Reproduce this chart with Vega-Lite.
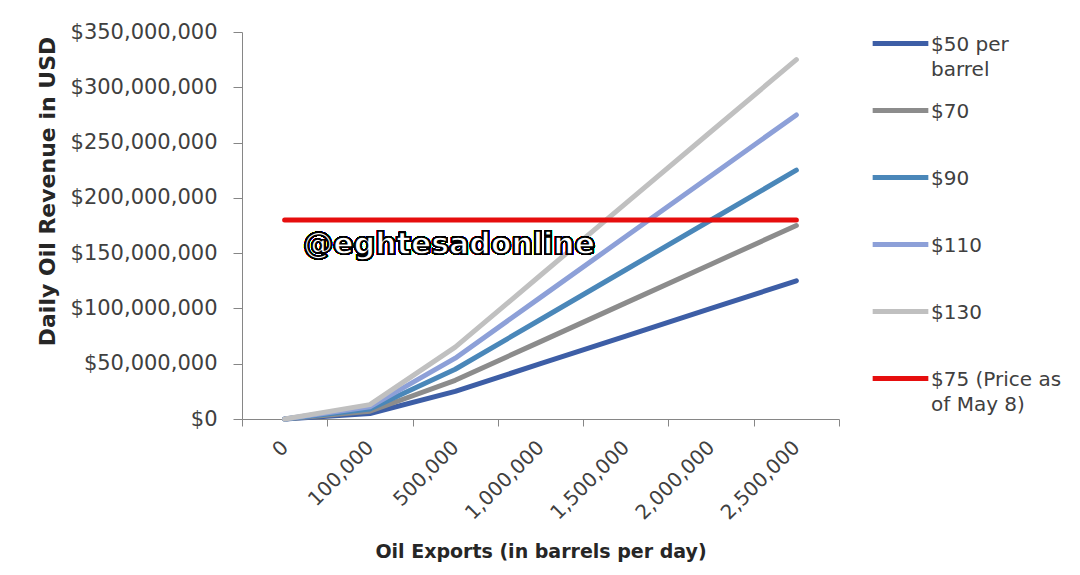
{
  "$schema": "https://vega.github.io/schema/vega-lite/v6.json",
  "width": 597,
  "height": 387,
  "autosize": {"type": "none"},
  "padding": {"left": 242, "top": 32, "right": 241, "bottom": 156},
  "background": "white",
  "config": {
    "view": {"stroke": null},
    "font": "DejaVu Sans"
  },
  "data": {
    "values": [
      {"exports": "0", "series": "$50 per barrel", "revenue": 0},
      {"exports": "100,000", "series": "$50 per barrel", "revenue": 5000000},
      {"exports": "500,000", "series": "$50 per barrel", "revenue": 25000000},
      {"exports": "1,000,000", "series": "$50 per barrel", "revenue": 50000000},
      {"exports": "1,500,000", "series": "$50 per barrel", "revenue": 75000000},
      {"exports": "2,000,000", "series": "$50 per barrel", "revenue": 100000000},
      {"exports": "2,500,000", "series": "$50 per barrel", "revenue": 125000000},
      {"exports": "0", "series": "$70", "revenue": 0},
      {"exports": "100,000", "series": "$70", "revenue": 7000000},
      {"exports": "500,000", "series": "$70", "revenue": 35000000},
      {"exports": "1,000,000", "series": "$70", "revenue": 70000000},
      {"exports": "1,500,000", "series": "$70", "revenue": 105000000},
      {"exports": "2,000,000", "series": "$70", "revenue": 140000000},
      {"exports": "2,500,000", "series": "$70", "revenue": 175000000},
      {"exports": "0", "series": "$90", "revenue": 0},
      {"exports": "100,000", "series": "$90", "revenue": 9000000},
      {"exports": "500,000", "series": "$90", "revenue": 45000000},
      {"exports": "1,000,000", "series": "$90", "revenue": 90000000},
      {"exports": "1,500,000", "series": "$90", "revenue": 135000000},
      {"exports": "2,000,000", "series": "$90", "revenue": 180000000},
      {"exports": "2,500,000", "series": "$90", "revenue": 225000000},
      {"exports": "0", "series": "$110", "revenue": 0},
      {"exports": "100,000", "series": "$110", "revenue": 11000000},
      {"exports": "500,000", "series": "$110", "revenue": 55000000},
      {"exports": "1,000,000", "series": "$110", "revenue": 110000000},
      {"exports": "1,500,000", "series": "$110", "revenue": 165000000},
      {"exports": "2,000,000", "series": "$110", "revenue": 220000000},
      {"exports": "2,500,000", "series": "$110", "revenue": 275000000},
      {"exports": "0", "series": "$130", "revenue": 0},
      {"exports": "100,000", "series": "$130", "revenue": 13000000},
      {"exports": "500,000", "series": "$130", "revenue": 65000000},
      {"exports": "1,000,000", "series": "$130", "revenue": 130000000},
      {"exports": "1,500,000", "series": "$130", "revenue": 195000000},
      {"exports": "2,000,000", "series": "$130", "revenue": 260000000},
      {"exports": "2,500,000", "series": "$130", "revenue": 325000000},
      {"exports": "0", "series": "$75 (Price as of May 8)", "revenue": 180000000},
      {"exports": "100,000", "series": "$75 (Price as of May 8)", "revenue": 180000000},
      {"exports": "500,000", "series": "$75 (Price as of May 8)", "revenue": 180000000},
      {"exports": "1,000,000", "series": "$75 (Price as of May 8)", "revenue": 180000000},
      {"exports": "1,500,000", "series": "$75 (Price as of May 8)", "revenue": 180000000},
      {"exports": "2,000,000", "series": "$75 (Price as of May 8)", "revenue": 180000000},
      {"exports": "2,500,000", "series": "$75 (Price as of May 8)", "revenue": 180000000}
    ]
  },
  "layer": [
    {
      "mark": {"type": "line", "strokeWidth": 5, "strokeCap": "round", "strokeJoin": "round"},
      "encoding": {
        "x": {
          "field": "exports",
          "type": "ordinal",
          "sort": ["0", "100,000", "500,000", "1,000,000", "1,500,000", "2,000,000", "2,500,000"],
          "scale": {"paddingInner": 0, "paddingOuter": 0},
          "axis": {
            "title": "Oil Exports (in barrels per day)",
            "titleFont": "DejaVu Sans",
            "titleFontSize": 19,
            "titleFontWeight": "bold",
            "titleColor": "#262626",
            "titleY": 132,
            "titleBaseline": "middle",
            "labelAngle": -45,
            "labelAlign": "right",
            "labelBaseline": "middle",
            "labelFont": "DejaVu Sans",
            "labelFontSize": 20,
            "labelColor": "#404040",
            "labelPadding": 18,
            "tickSize": 7,
            "tickColor": "#868686",
            "domainColor": "#868686",
            "tickBand": "extent",
            "grid": false
          }
        },
        "y": {
          "field": "revenue",
          "type": "quantitative",
          "scale": {"domain": [0, 350000000], "nice": false},
          "axis": {
            "title": "Daily Oil Revenue in USD",
            "titleFont": "DejaVu Sans",
            "titleFontSize": 22,
            "titleFontWeight": "bold",
            "titleColor": "#262626",
            "titleX": -195,
            "titleY": 159,
            "titleAngle": -90,
            "titleBaseline": "middle",
            "titleAlign": "center",
            "format": "$,.0f",
            "values": [0, 50000000, 100000000, 150000000, 200000000, 250000000, 300000000, 350000000],
            "labelFont": "DejaVu Sans",
            "labelFontSize": 21,
            "labelColor": "#404040",
            "labelPadding": 16,
            "tickSize": 9,
            "tickColor": "#868686",
            "domainColor": "#868686",
            "grid": false
          }
        },
        "color": {
          "field": "series",
          "type": "nominal",
          "sort": ["$50 per barrel", "$70", "$90", "$110", "$130", "$75 (Price as of May 8)"],
          "scale": {
            "domain": ["$50 per barrel", "$70", "$90", "$110", "$130", "$75 (Price as of May 8)"],
            "range": ["#3D5EA6", "#8C8C8C", "#4A87B9", "#8DA0D8", "#C0C0C0", "#E60E0E"]
          },
          "legend": {
            "title": null,
            "orient": "none",
            "legendX": 628,
            "legendY": -19,
            "symbolType": "stroke",
            "symbolSize": 3100,
            "symbolStrokeWidth": 5,
            "labelFont": "DejaVu Sans",
            "labelFontSize": 20,
            "labelColor": "#404040",
            "labelOffset": 0,
            "labelLimit": 200,
            "labelBaseline": "alphabetic",
            "gridAlign": "all",
            "rowPadding": 0,
            "labelExpr": "datum.label == '$50 per barrel' ? ['$50 per', 'barrel'] : datum.label == '$75 (Price as of May 8)' ? ['$75 (Price as', 'of May 8)'] : datum.label",
            "encode": {
              "labels": {"update": {"dy": {"value": 7}, "lineHeight": {"value": 25}}}
            }
          }
        }
      }
    },
    {
      "mark": {
        "type": "text",
        "font": "DejaVu Sans",
        "fontWeight": "bold",
        "fontSize": 30,
        "fill": "white",
        "stroke": "black",
        "strokeWidth": 1.5,
        "dx": -6
      },
      "encoding": {
        "x": {"datum": "500,000", "type": "ordinal"},
        "y": {"datum": 157000000, "type": "quantitative"},
        "text": {"value": "@eghtesadonline"}
      }
    }
  ]
}
